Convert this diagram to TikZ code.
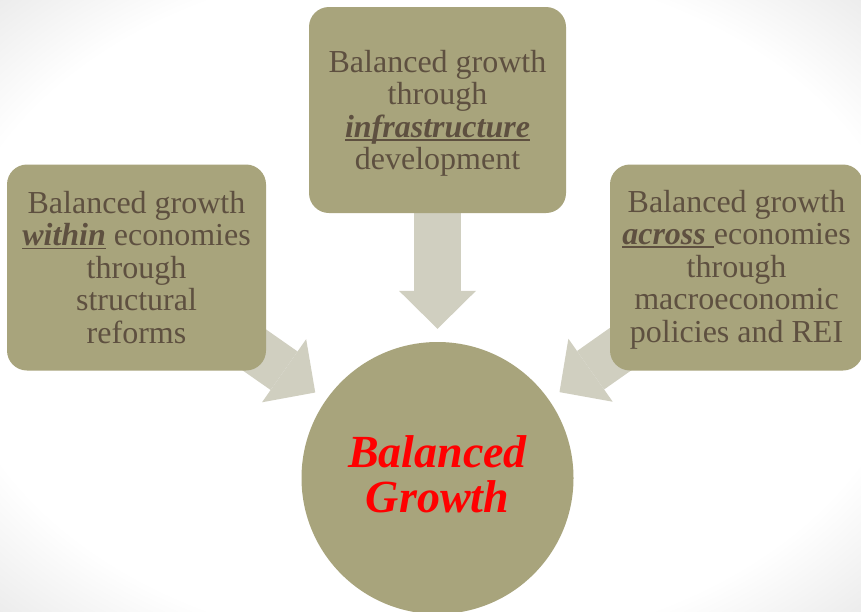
\documentclass[tikz,border=0pt]{standalone}
\usepackage{fontspec}
\setmainfont{Liberation Serif}
\usetikzlibrary{arrows.meta,backgrounds}
\definecolor{boxfill}{RGB}{168,164,124}
\definecolor{arrowfill}{RGB}{208,207,192}
\definecolor{txt}{RGB}{94,80,64}
\pgfdeclareradialshading{vignette}{\pgfpoint{0bp}{0bp}}{color(0bp)=(white); color(28bp)=(white); color(36bp)=(black!8); color(50bp)=(black!8)}
\newcommand\myul[1]{\begingroup\setbox0\hbox{#1}\rlap{\rule[-3.5pt]{\wd0}{1.8pt}}\box0\endgroup}
\newcommand\kw[1]{\myul{\textbf{\textit{#1}}}}
\begin{document}
\begin{tikzpicture}[x=1pt,y=-1pt,
  boxnode/.style={fill=boxfill, rounded corners=20pt, minimum width=257pt,
    minimum height=206pt, text=txt, align=center,
    font=\fontsize{32}{32.5}\selectfont, inner sep=0pt},
  bigarrow/.style={draw=arrowfill, line width=47pt, shorten >=13pt,
    -{Triangle[width=77pt,length=38pt,line width=0pt,fill=arrowfill]}},
  hub/.style={circle, fill=boxfill, minimum size=272pt, inner sep=0pt,
    align=center, text=red,
    font=\fontsize{46}{45}\selectfont\bfseries\itshape}]
\useasboundingbox (0,0) rectangle (861,611);
\node[boxnode] (top) at (437.5,110)
  {\rule{0pt}{29pt}Balanced growth\\through\\\kw{infrastructure}\\development};
\node[boxnode, minimum width=259pt] (left) at (136.5,267.5)
  {Balanced growth\\\kw{within} economies\\through\\structural\\reforms};
\node[boxnode, minimum width=253pt] (right) at (736.5,267.5)
  {\rule{0pt}{26pt}Balanced growth\\\myul{\textbf{\textit{across}}\ }economies\\through\\macroeconomic\\policies and REI};
\node[hub] (hub) at (437.5,478) {Balanced\\Growth\rule[-7pt]{0pt}{7pt}};
\begin{scope}[on background layer]
  \shade[shading=vignette] (0,0) rectangle (861,611);
  \draw[bigarrow] (top.center) -- (hub);
  \draw[bigarrow] (left.center) -- (hub);
  \draw[bigarrow] (right.center) -- (hub);
\end{scope}
\end{tikzpicture}
\end{document}
